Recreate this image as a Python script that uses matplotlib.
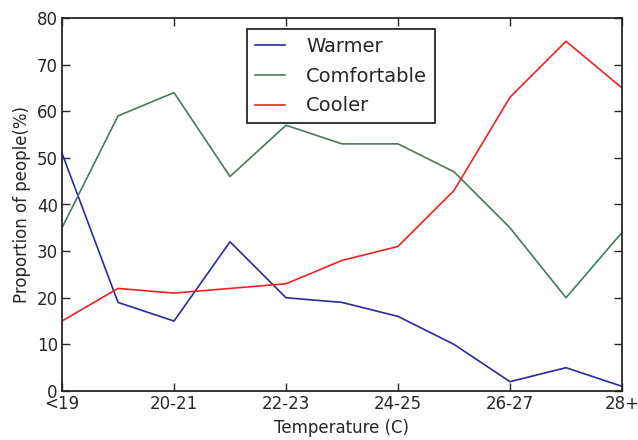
import matplotlib
matplotlib.use("Agg")
import matplotlib.pyplot as plt

# survey results per temperature band
temps = ["<19", "19-20", "20-21", "21-22", "22-23", "23-24", "24-25", "25-26", "26-27", "27-28", "28+"]
warmer = [51, 19, 15, 32, 20, 19, 16, 10, 2, 5, 1]
comfortable = [35, 59, 64, 46, 57, 53, 53, 47, 35, 20, 34]
cooler = [15, 22, 21, 22, 23, 28, 31, 43, 63, 75, 65]

plt.rcParams['font.family'] = ['DejaVu Sans']
plt.rcParams['text.color'] = '#262626'
plt.rcParams['axes.labelcolor'] = '#262626'
plt.rcParams['xtick.color'] = '#262626'
plt.rcParams['ytick.color'] = '#262626'

fig = plt.figure(figsize=(6.38, 4.40), dpi=100)
ax = fig.add_axes([62/638, 1 - 391/440, 560/638, 373/440])

x = list(range(len(temps)))
ax.plot(x, warmer, color="#2b2b9b", lw=1.2, label="Warmer")
ax.plot(x, comfortable, color="#467a5a", lw=1.2, label="Comfortable")
ax.plot(x, cooler, color="#ee2222", lw=1.2, label="Cooler")

ax.set_xlim(0, 10)
ax.set_ylim(0, 80)
ax.set_xticks(x[::2])
ax.set_xticklabels(temps[::2])
ax.set_yticks(range(0, 81, 10))
ax.tick_params(direction="in", length=6, width=1, labelsize=12, pad=3,
               top=True, right=True)
for s in ax.spines.values():
    s.set_color("#262626")
    s.set_linewidth(1.3)

ax.set_xlabel("Temperature (C)", fontsize=12, labelpad=4)
ax.set_ylabel("Proportion of people(%)", fontsize=12, labelpad=4)

leg = ax.legend(loc="upper center", bbox_to_anchor=(0.498, 0.97), fontsize=14,
                fancybox=False, framealpha=1, edgecolor="#262626",
                handlelength=1.55, handletextpad=1.1, borderpad=0.4,
                labelspacing=0.55, borderaxespad=0)
leg.get_frame().set_linewidth(1.3)

fig.savefig("out.png", dpi=100)
